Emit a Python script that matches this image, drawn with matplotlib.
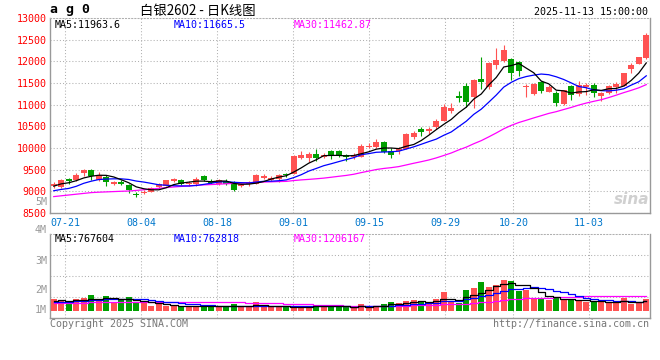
import numpy as np
import pandas as pd
import matplotlib
matplotlib.use("Agg")
import matplotlib.pyplot as plt
from matplotlib.patches import Rectangle

# ---------------- data ----------------
dates = ["07-17", "07-18", "07-21", "07-22", "07-23", "07-24", "07-25", "07-28", "07-29", "07-30",
         "07-31", "08-01", "08-04", "08-05", "08-06", "08-07", "08-08", "08-11", "08-12", "08-13",
         "08-14", "08-15", "08-18", "08-19", "08-20", "08-21", "08-22", "08-25", "08-26", "08-27",
         "08-28", "08-29", "09-01", "09-02", "09-03", "09-04", "09-05", "09-08", "09-09", "09-10",
         "09-11", "09-12", "09-15", "09-16", "09-17", "09-18", "09-19", "09-22", "09-23", "09-24",
         "09-25", "09-26", "09-29", "09-30", "10-09", "10-10", "10-13", "10-14", "10-15", "10-16",
         "10-17", "10-20", "10-21", "10-22", "10-23", "10-24", "10-27", "10-28", "10-29", "10-30",
         "10-31", "11-03", "11-04", "11-05", "11-06", "11-07", "11-10", "11-11", "11-12", "11-13"]

opens = [9112, 9089, 9289, 9266, 9420, 9496, 9266, 9342, 9174, 9220,
         9151, 8937, 8973, 8996, 9093, 9128, 9250, 9266, 9167, 9158,
         9346, 9247, 9162, 9250, 9220, 9112, 9158, 9174, 9319, 9266,
         9277, 9392, 9402, 9771, 9778, 9872, 9794, 9932, 9927, 9827,
         9785, 9801, 10012, 10033, 10137, 9935, 9930, 9986, 10247, 10444,
         10382, 10484, 10629, 10851, 11196, 11426, 11180, 11587, 11410, 11915,
         12000, 12047, 11985, 11398, 11235, 11520, 11297, 11265, 11012, 11426,
         11235, 11405, 11449, 11196, 11258, 11419, 11433, 11812, 11934, 12081]
highs = [9204, 9289, 9312, 9434, 9512, 9525, 9438, 9369, 9250, 9266,
         9174, 8990, 9036, 9093, 9197, 9266, 9319, 9296, 9250, 9328,
         9369, 9282, 9289, 9282, 9236, 9197, 9243, 9411, 9397, 9358,
         9397, 9419, 9850, 9925, 9898, 9978, 9879, 9946, 9956, 9872,
         9877, 10095, 10111, 10199, 10171, 9997, 10020, 10341, 10399, 10491,
         10479, 10668, 11005, 11042, 11311, 11502, 11582, 12099, 11989, 12313,
         12368, 12071, 12001, 11474, 11490, 11555, 11463, 11311, 11350, 11449,
         11541, 11490, 11490, 11297, 11449, 11520, 11736, 11966, 12106, 12660]
lows = [9066, 9070, 9174, 9243, 9365, 9266, 9243, 9112, 9135, 9144,
        8960, 8868, 8928, 8978, 9070, 9116, 9208, 9144, 9128, 9128,
        9250, 9158, 9139, 9151, 9006, 9098, 9128, 9162, 9296, 9227,
        9204, 9335, 9395, 9741, 9686, 9709, 9760, 9739, 9794, 9709,
        9750, 9790, 9998, 9996, 9896, 9780, 9865, 9969, 10210, 10279,
        10316, 10438, 10622, 10813, 11065, 10950, 10932, 11357, 11357, 11817,
        11977, 11578, 11664, 11180, 11230, 11265, 11290, 10973, 10989, 11104,
        11205, 11219, 11180, 11082, 11235, 11265, 11426, 11720, 11929, 12063]
closes = [9167, 9266, 9227, 9388, 9496, 9365, 9381, 9213, 9204, 9174,
          9020, 8905, 8996, 9082, 9174, 9259, 9266, 9174, 9185, 9289,
          9270, 9185, 9266, 9174, 9020, 9167, 9204, 9381, 9358, 9312,
          9381, 9370, 9805, 9840, 9852, 9778, 9840, 9834, 9846, 9785,
          9827, 10049, 10054, 10148, 9919, 9827, 9981, 10325, 10353, 10378,
          10433, 10629, 10937, 10920, 11155, 11065, 11566, 11525, 11961, 12024,
          12270, 11732, 11778, 11412, 11487, 11313, 11412, 11047, 11334, 11231,
          11444, 11451, 11258, 11258, 11426, 11480, 11729, 11908, 12099, 12602]
volumes = [967000, 884000, 694000, 967000, 1050000, 1298000, 884000, 1215000, 694000, 884000,
           1132000, 612000, 661000, 388000, 529000, 388000, 388000, 388000, 388000, 388000,
           331000, 471000, 331000, 388000, 554000, 331000, 331000, 719000, 331000, 331000,
           331000, 331000, 388000, 331000, 331000, 446000, 281000, 471000, 281000, 281000,
           198000, 554000, 388000, 388000, 554000, 719000, 612000, 802000, 884000, 802000,
           612000, 967000, 1545000, 744000, 612000, 1711000, 1876000, 2372000, 1959000, 2124000,
           2565000, 2430000, 1600000, 1700000, 1030000, 1030000, 860000, 1020000, 860000, 939830,
           830000, 760000, 760000, 830000, 610160, 670000, 1030000, 515000, 615000, 1008020]

# sessions before the visible window, only used for the moving averages
prior_closes = [8714, 8675, 8836, 8944, 8813, 9100, 9000, 8990, 8960, 8850,
                8480, 8540, 8600, 8680, 8750, 8830, 8790, 8800, 8880, 8990,
                8960, 9000, 8900, 8800, 8880, 9000, 9100, 9150, 9180]
prior_volumes = [520000, 610000, 580000, 490000, 650000, 700000, 540000, 600000, 530000, 480000,
                 560000, 620000, 590000, 510000, 570000, 640000, 550000, 520000, 600000, 580000,
                 500000, 560000, 540000, 590000, 560000, 760000, 820000, 780000, 820000]

price_ticks = [8500, 9000, 9500, 10000, 10500, 11000, 11500, 12000, 12500, 13000]
tick_dates = ["07-21", "08-04", "08-18", "09-01", "09-15", "09-29", "10-20", "11-03"]
vol_labels = ["5M", "4M", "3M", "2M", "1M"]

# ---------------- styling ----------------
W, H = 660, 360
UP = "#ff5252"
DOWN = "#00a000"
GRID = "#b0b0b0"
FRAME = "#999999"
MONO = "DejaVu Sans Mono"

fig = plt.figure(figsize=(W / 100, H / 100), dpi=100)
fig.patch.set_facecolor("white")


def fx(px):
    return px / W


def fy(py):
    return 1 - py / H


ax = fig.add_axes([fx(50), fy(213), 600 / W, 195 / H])
axv = fig.add_axes([fx(50), fy(318), 600 / W, 84 / H])

n = len(closes)
x = np.arange(n)


def sma(prior, vals, w):
    s = pd.Series(list(prior) + list(vals), dtype=float).rolling(w).mean().to_numpy()
    return s[-len(vals):]


ma5 = sma(prior_closes, closes, 5)
ma10 = sma(prior_closes, closes, 10)
ma30 = sma(prior_closes, closes, 30)
vma5 = sma(prior_volumes, volumes, 5)
vma10 = sma(prior_volumes, volumes, 10)
vma30 = sma(prior_volumes, volumes, 30)

# ---------------- price panel ----------------
ax.set_xlim(-0.5, n - 0.5)
ax.set_ylim(price_ticks[0], price_ticks[-1])
min_h = (price_ticks[-1] - price_ticks[0]) / 195.0
for i in range(n):
    o, h, l, c = opens[i], highs[i], lows[i], closes[i]
    col = UP if c >= o else DOWN
    ax.vlines(i, l, h, colors=col, lw=0.8, zorder=3)
    bot = min(o, c)
    ht = max(abs(c - o), min_h)
    ax.add_patch(Rectangle((i - 0.37, bot), 0.74, ht, facecolor=col, edgecolor="none", zorder=4))

ax.plot(x, ma30, color="#ff00ff", lw=0.9, zorder=5)
ax.plot(x, ma10, color="#0000ff", lw=0.9, zorder=5)
ax.plot(x, ma5, color="#000000", lw=0.9, zorder=5)

tick_pos = [-0.5 + dates.index(d) * n / (n - 1) for d in tick_dates]
ax.set_yticks(price_ticks)
ax.set_yticklabels([str(p) for p in price_ticks], fontfamily=MONO, fontsize=7.2, color="#ff0000")
ax.set_xticks(tick_pos)
ax.set_xticklabels(tick_dates, fontfamily=MONO, fontsize=7.2, color="#0077cc")
ax.tick_params(axis="both", length=0)
ax.tick_params(axis="y", pad=2.5)
ax.tick_params(axis="x", pad=3.5)
ax.grid(True, color=GRID, linestyle=(0, (1, 2)), lw=0.75)
ax.set_axisbelow(True)

# ---------------- volume panel ----------------
px_per_unit = 12.1 / 1e6
vlo = -7.3 / px_per_unit
vhi = 76.7 / px_per_unit
axv.set_xlim(-0.5, n - 0.5)
axv.set_ylim(vlo, vhi)
vcols = [UP if closes[i] >= opens[i] else DOWN for i in range(n)]
axv.bar(x, volumes, width=0.86, color=vcols, zorder=3)
axv.plot(x, vma30, color="#ff00ff", lw=0.9, drawstyle="steps-mid", zorder=5)
axv.plot(x, vma10, color="#0000ff", lw=0.9, drawstyle="steps-mid", zorder=5)
axv.plot(x, vma5, color="#000000", lw=0.9, drawstyle="steps-mid", zorder=5)
axv.set_yticks([vlo + (vhi - vlo) * f for f in (0.25, 0.5, 0.75)])
axv.set_yticklabels([])
axv.set_xticks(tick_pos)
axv.set_xticklabels([])
axv.tick_params(axis="both", length=0)
axv.grid(True, color=GRID, linestyle=(0, (1, 2)), lw=0.75)
axv.set_axisbelow(True)

for a in (ax, axv):
    for s in ("left", "right", "bottom"):
        a.spines[s].set_color(FRAME)
        a.spines[s].set_linewidth(1.0)
    a.spines["top"].set_color(GRID)
    a.spines["top"].set_linestyle((0, (1, 2)))
    a.spines["top"].set_linewidth(0.75)

# ---------------- texts ----------------
fig.text(fx(50), fy(10), "a g 0", fontfamily=MONO, fontweight="bold", fontsize=9.5,
         ha="left", va="center", color="#000000")
fig.text(fx(140), fy(10.5), "白银2602 - 日K线图", family=["Noto Sans CJK SC", "DejaVu Sans"],
         fontsize=9.6, ha="left", va="center", color="#000000")
fig.text(fx(648), fy(12), "2025-11-13 15:00:00", fontfamily=MONO, fontsize=7.2,
         ha="right", va="center", color="#000000")

fig.text(fx(55), fy(24.5), "MA5:%.1f" % ma5[-1], fontfamily=MONO, fontsize=7.2,
         ha="left", va="center", color="#000000")
fig.text(fx(174), fy(24.5), "MA10:%.1f" % ma10[-1], fontfamily=MONO, fontsize=7.2,
         ha="left", va="center", color="#0000ff")
fig.text(fx(294), fy(24.5), "MA30:%.2f" % ma30[-1], fontfamily=MONO, fontsize=7.2,
         ha="left", va="center", color="#ff00ff")

fig.text(fx(55), fy(238.5), "MA5:%d" % round(vma5[-1]), fontfamily=MONO, fontsize=7.2,
         ha="left", va="center", color="#000000")
fig.text(fx(174), fy(238.5), "MA10:%d" % round(vma10[-1]), fontfamily=MONO, fontsize=7.2,
         ha="left", va="center", color="#0000ff")
fig.text(fx(294), fy(238.5), "MA30:%d" % round(vma30[-1]), fontfamily=MONO, fontsize=7.2,
         ha="left", va="center", color="#ff00ff")

for lab, py in zip(vol_labels, [202, 230.5, 261, 290, 310]):
    fig.text(fx(47), fy(py), lab, fontfamily=MONO, fontsize=7.2, ha="right", va="center",
             color="#999999")

fig.text(fx(50), fy(324), "Copyright 2025 SINA.COM", fontfamily=MONO, fontsize=7.2,
         ha="left", va="center", color="#777777")
fig.text(fx(649), fy(324), "http://finance.sina.com.cn", fontfamily=MONO, fontsize=7.2,
         ha="right", va="center", color="#777777")

fig.text(fx(632), fy(199), "sina", fontsize=11, fontweight="bold", style="italic",
         ha="center", va="center", color="#d0d0d0")

fig.savefig("out.png", dpi=100, facecolor="white")
